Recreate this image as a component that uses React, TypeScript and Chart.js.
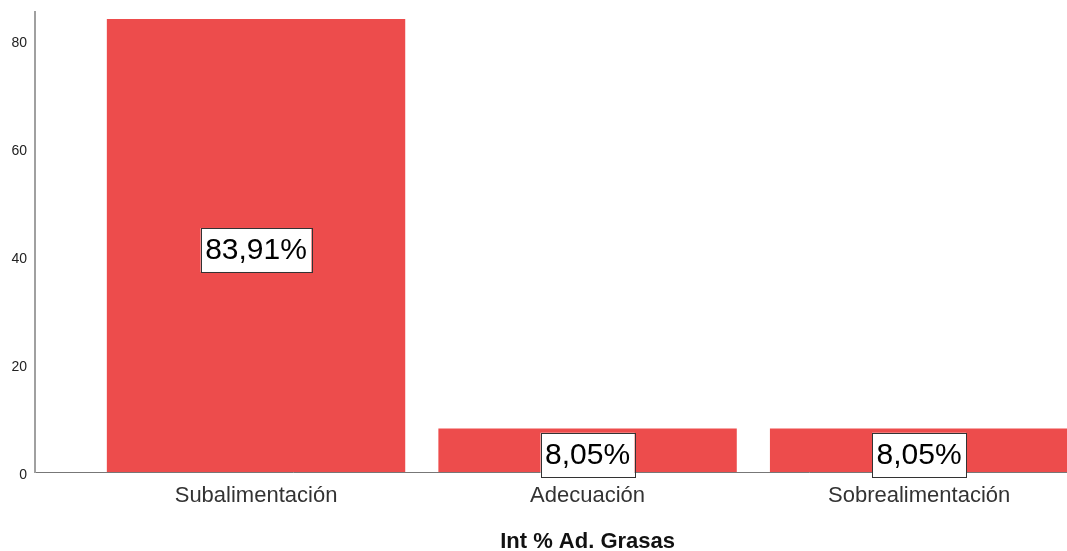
import React, { useEffect, useRef } from "react";
import { Chart, registerables } from "chart.js";

Chart.register(...registerables);

const categories = ["Subalimentación", "Adecuación", "Sobrealimentación"];
const values = [83.91, 8.05, 8.05];
const yTicks = [0, 20, 40, 60, 80];
const axisTitle = "Int % Ad. Grasas";

const FONT = "Arial, 'Liberation Sans', sans-serif";

const fmt = (v: number) => v.toFixed(2).replace(".", ",") + "%";

const labelPlugin = {
  id: "boxLabels",
  afterDatasetsDraw(chart: any) {
    const ctx = chart.ctx;
    const meta = chart.getDatasetMeta(0);
    ctx.save();
    ctx.font = `30px ${FONT}`;
    ctx.textAlign = "center";
    ctx.textBaseline = "middle";
    meta.data.forEach((el: any, i: number) => {
      const text = fmt(values[i]);
      const cx = el.x;
      const cy = (el.y + el.base) / 2 + 4.5;
      const w = ctx.measureText(text).width + 9;
      const h = 44;
      ctx.fillStyle = "#ffffff";
      ctx.fillRect(cx - w / 2, cy - h / 2, w, h);
      ctx.strokeStyle = "#333333";
      ctx.lineWidth = 1;
      ctx.strokeRect(Math.round(cx - w / 2) + 0.5, Math.round(cy - h / 2) + 0.5, Math.round(w), h);
      ctx.fillStyle = "#000000";
      ctx.fillText(text, cx, cy + 1);
    });
    ctx.restore();
  },
  afterDraw(chart: any) {
    const ctx = chart.ctx;
    const xs = chart.scales.x;
    ctx.save();
    ctx.font = `bold 22px ${FONT}`;
    ctx.textAlign = "center";
    ctx.textBaseline = "alphabetic";
    ctx.fillStyle = "#111111";
    ctx.fillText(axisTitle, xs.getPixelForValue(1), 548);
    ctx.restore();
  },
};

export default function App() {
  const ref = useRef<HTMLCanvasElement | null>(null);
  useEffect(() => {
    document.body.style.margin = "0";
    const chart = new Chart(ref.current as HTMLCanvasElement, {
      type: "bar",
      data: {
        datasets: [
          {
            data: values.map((v, i) => ({ x: i, y: v })),
            backgroundColor: "#ED4C4C",
            borderWidth: 0,
            barPercentage: 0.9,
            categoryPercentage: 1,
          },
        ],
      },
      options: {
        animation: false,
        responsive: false,
        maintainAspectRatio: false,
        layout: { padding: { top: 12, left: 0, right: 0, bottom: 0 } },
        plugins: { legend: { display: false }, tooltip: { enabled: false } },
        scales: {
          x: {
            type: "linear",
            offset: false,
            min: -2 / 3,
            max: 2.446,
            grid: { display: false, drawTicks: false, offset: false },
            border: { display: true, color: "#777777", width: 1 },
            afterBuildTicks: (axis: any) => {
              axis.ticks = categories.map((_, i) => ({ value: i }));
            },
            ticks: {
              includeBounds: false,
              autoSkip: false,
              maxRotation: 0,
              padding: 11,
              color: "#333333",
              font: { family: FONT, size: 22 },
              callback: (v: any) => categories[v] ?? "",
            },
            afterFit: (s: any) => {
              s.height = 79;
              s.paddingLeft = 0;
              s.paddingRight = 0;
            },
          },
          y: {
            min: 0,
            max: 85.2,
            grid: { display: false, drawTicks: false },
            border: { display: true, color: "#A0A0A0", width: 2 },
            afterBuildTicks: (axis: any) => {
              axis.ticks = yTicks.map((v) => ({ value: v }));
            },
            ticks: {
              includeBounds: false,
              padding: 8,
              labelOffset: 3,
              color: "#222222",
              font: { family: FONT, size: 14 },
            },
            afterFit: (s: any) => {
              s.width = 35;
              s.paddingTop = 0;
              s.paddingBottom = 0;
            },
          },
        },
      },
      plugins: [labelPlugin],
    } as any);
    return () => chart.destroy();
  }, []);
  return (
    <div style={{ width: 1067, height: 551 }}>
      <canvas ref={ref} width={1067} height={551} style={{ display: "block" }} />
    </div>
  );
}
